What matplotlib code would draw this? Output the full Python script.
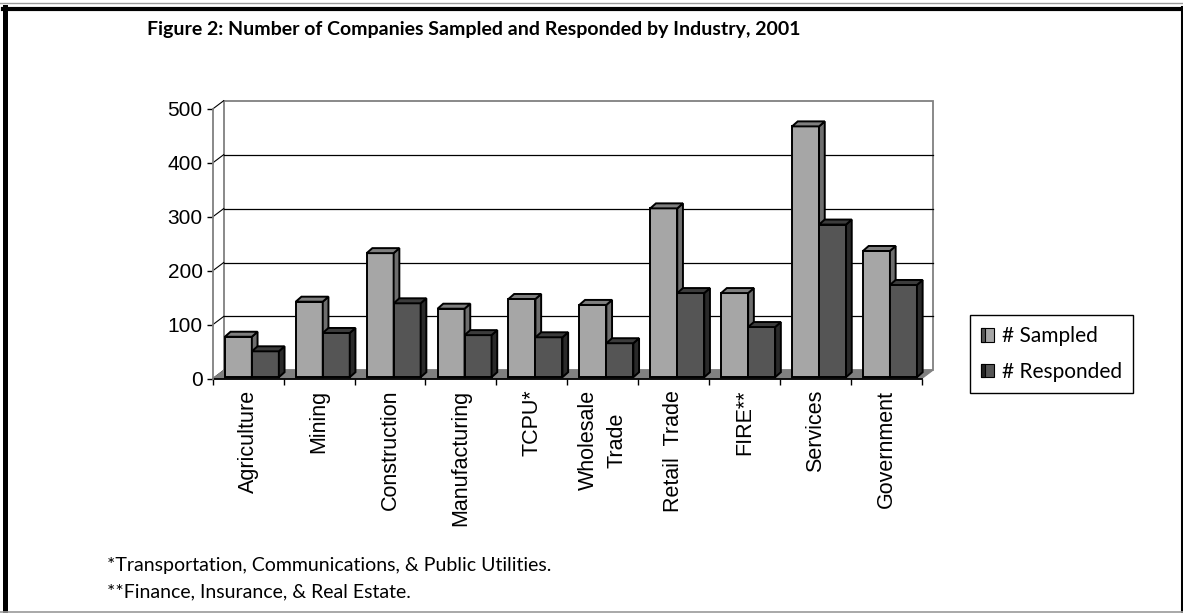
import numpy as np
import matplotlib.pyplot as plt
from matplotlib.patches import Polygon, Rectangle, Patch
from matplotlib.lines import Line2D
from matplotlib.legend_handler import HandlerPatch

industries = ["Agriculture", "Mining", "Construction", "Manufacturing", "TCPU*",
              "Wholesale\nTrade", "Retail  Trade", "FIRE**", "Services", "Government"]
sampled = [75, 140, 230, 127, 145, 134, 313, 156, 465, 234]
responded = [48, 82, 137, 78, 74, 63, 156, 93, 283, 171]
yticks = [0, 100, 200, 300, 400, 500]

# face colours: front, side, top
S_COL = ("#a6a6a6", "#6e6e6e", "#7f7f7f")
R_COL = ("#555555", "#2a2a2a", "#3c3c3c")

W, H = 1183, 613
fig = plt.figure(figsize=(W / 100, H / 100), dpi=100)
ax = fig.add_axes([212.7 / W, 1 - 378.7 / H, 709 / W, 269.7 / H])
ax.set_xlim(0, 10)
ax.set_ylim(0, 500)
ax.patch.set_visible(False)

# pixel -> data units
px = 10 / 709
py = 500 / 269.7
DX, DY = 11 * px, 8.3 * py

# back wall, gridlines and floor
ax.add_patch(Polygon([(DX, DY), (10 + DX, DY), (10 + DX, 500 + DY), (DX, 500 + DY)],
                     closed=True, fc="white", ec="#808080", lw=1.3, clip_on=False, zorder=0))
for v in yticks[1:-1]:
    ax.plot([DX, 10 + DX], [v + DY, v + DY], color="black", lw=0.9, clip_on=False, zorder=1)
for v in yticks:
    ax.plot([0, DX], [v, v + DY], color="black", lw=0.8, clip_on=False, zorder=1)
ax.add_patch(Polygon([(0, 0), (10, 0), (10 + DX, DY), (DX, DY)], closed=True,
                     fc="#808080", ec="#808080", lw=0.8, clip_on=False, zorder=1))

bw = 27 * px
sx, sy = 3.7 * px, 1.5 * py
bx, by = 5.7 * px, 5 * py
x = np.arange(len(industries))


def draw_bars(xs, vals, cols, z):
    front, side, top = cols
    ax.bar(xs, vals, bw, bottom=sy, align="edge", color=front,
           edgecolor="black", lw=1.4, zorder=z)
    for x0, v in zip(xs, vals):
        x1, y1 = x0 + bw, sy + v
        ax.add_patch(Polygon([(x1, sy), (x1 + bx, sy + by), (x1 + bx, y1 + by), (x1, y1)],
                             closed=True, fc=side, ec="black", lw=1.4, zorder=z, clip_on=False))
        ax.add_patch(Polygon([(x0, y1), (x1, y1), (x1 + bx, y1 + by), (x0 + bx, y1 + by)],
                             closed=True, fc=top, ec="black", lw=1.4, zorder=z, clip_on=False))


draw_bars(x + 0.5 + sx - bw, sampled, S_COL, 3)
draw_bars(x + 0.5 + sx, responded, R_COL, 4)

# axes
for s in ("top", "right"):
    ax.spines[s].set_visible(False)
ax.spines["left"].set_color("#808080")
ax.spines["left"].set_linewidth(1.3)
ax.spines["bottom"].set_color("black")
ax.spines["bottom"].set_linewidth(1.3)
ax.spines["bottom"].set_zorder(2)

ax.set_xticks(x + 0.5, industries)
ax.set_xticks(np.arange(11), minor=True)
ax.tick_params(axis="x", which="major", length=0, pad=8, rotation=90, labelsize=15.5)
ax.tick_params(axis="x", which="minor", length=4, width=1, color="black")
for lbl in ax.get_xticklabels():
    lbl.set_fontfamily("Liberation Sans")
    lbl.set_verticalalignment("top")
    lbl.set_multialignment("center")
    lbl.set_linespacing(1.45)
ax.set_yticks(yticks)
ax.tick_params(axis="y", length=4.3, width=1, pad=3, labelsize=15)
for lbl in ax.get_yticklabels():
    lbl.set_fontfamily("Liberation Sans")


class ShadedSquare(HandlerPatch):
    def __init__(self, stripe):
        super().__init__()
        self.stripe = stripe

    def create_artists(self, legend, orig_handle, xdescent, ydescent, width, height, fontsize, trans):
        sq = Rectangle((-xdescent, -ydescent), width, height, fc=orig_handle.get_facecolor(),
                       ec="black", lw=0.8, transform=trans)
        st = Rectangle((-xdescent, -ydescent), width * 0.3, height, fc=self.stripe,
                       ec="black", lw=0.8, transform=trans)
        return [sq, st]


h1 = Patch(fc=S_COL[0], label="# Sampled")
h2 = Patch(fc=R_COL[0], label="# Responded")
leg = fig.legend(handles=[h1, h2], loc="center left", bbox_to_anchor=(970 / W, 1 - 354 / H),
                 handler_map={h1: ShadedSquare("#555555"), h2: ShadedSquare("#222222")},
                 prop={"family": "Lato", "size": 15}, fancybox=False, edgecolor="black",
                 framealpha=1, handlelength=0.62, handleheight=0.62, handletextpad=0.35,
                 labelspacing=0.75, borderpad=0.55, borderaxespad=0)
leg.get_frame().set_linewidth(1.0)

fig.text(474 / W, 1 - 30 / H, "Figure 2: Number of Companies Sampled and Responded by Industry, 2001",
         ha="center", va="center", family="Lato", weight="bold", fontsize=14)
fig.text(107 / W, 1 - 565 / H, "*Transportation, Communications, & Public Utilities.",
         ha="left", va="center", family="Lato", fontsize=14)
fig.text(107 / W, 1 - 592 / H, "**Finance, Insurance, & Real Estate.",
         ha="left", va="center", family="Lato", fontsize=14)

# page frame
fig.add_artist(Line2D([0, 1], [1 - 3 / H] * 2, color="#9a9a9a", lw=1, transform=fig.transFigure))
fig.add_artist(Line2D([5 / W, 5 / W], [0, 1 - 7 / H], color="black", lw=3.6, transform=fig.transFigure))
fig.add_artist(Line2D([3 / W, 1182 / W], [1 - 9 / H] * 2, color="black", lw=3, transform=fig.transFigure))
fig.add_artist(Line2D([1181.5 / W] * 2, [0, 1 - 7 / H], color="black", lw=2.2, transform=fig.transFigure))
fig.add_artist(Line2D([0, 1], [1.5 / H] * 2, color="#9a9a9a", lw=1.2, transform=fig.transFigure))

fig.savefig("out.png", dpi=100)
